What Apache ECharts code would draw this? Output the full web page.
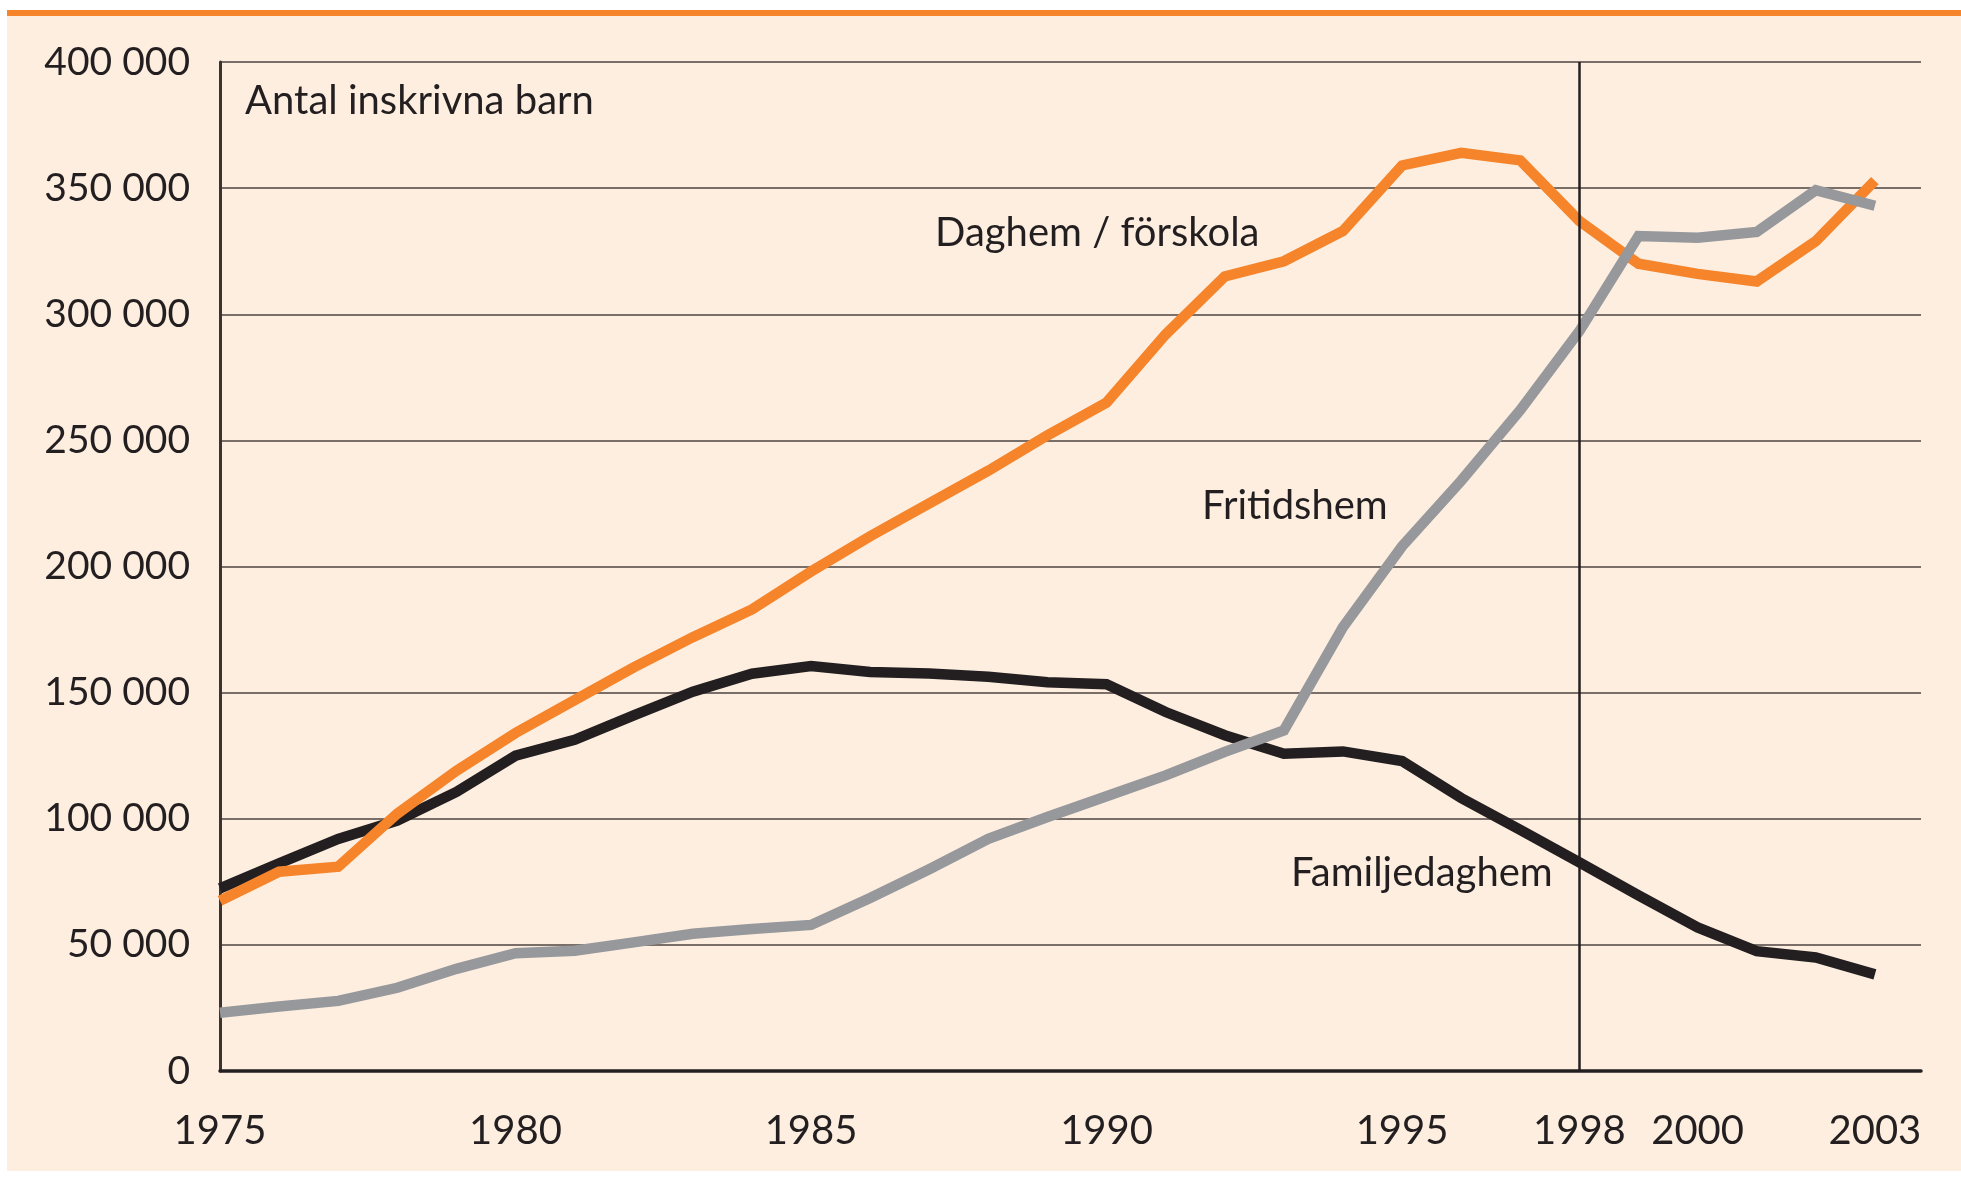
<!DOCTYPE html>
<html>
<head>
<meta charset="utf-8">
<script src="https://cdn.jsdelivr.net/npm/echarts@6/dist/echarts.min.js"></script>
<style>
  html, body { margin: 0; padding: 0; background: #ffffff; }
  #frame {
    position: absolute; left: 7px; top: 10px; right: 0; bottom: 6px;
    background: #fdeee0; border-top: 6px solid #f5842b;
  }
  #main { position: absolute; left: 0; top: 0; width: 1961px; height: 1177px; }
</style>
</head>
<body>
<div id="frame"></div>
<div id="main"></div>
<script>
  // år 1975-2003
  const years = [1975, 1976, 1977, 1978, 1979, 1980, 1981, 1982, 1983, 1984,
    1985, 1986, 1987, 1988, 1989, 1990, 1991, 1992, 1993, 1994,
    1995, 1996, 1997, 1998, 1999, 2000, 2001, 2002, 2003];
  const daghem = [67500, 79000, 81000, 102000, 119000, 134000, 147000, 160000, 172000, 183000,
    198000, 212000, 225000, 238000, 252000, 265000, 292000, 315000, 321000, 333000,
    359000, 364000, 361000, 337000, 320000, 316000, 313000, 329000, 353000];
  const familjedaghem = [72400, 82300, 92000, 99300, 110600, 125000, 131300, 141000, 150400, 157500,
    160500, 158200, 157600, 156300, 154100, 153300, 142300, 133100, 125800, 126700,
    122900, 108200, 95600, 82700, 69600, 56900, 47500, 45000, 38300];
  const fritidshem = [23100, 25600, 27800, 33000, 40500, 46700, 47700, 51000, 54400, 56300,
    57900, 68600, 80000, 92000, 100700, 108900, 117200, 126500, 135000, 176000,
    208000, 234000, 262000, 293300, 331000, 330300, 332600, 349200, 343000];
  const labelYears = [1975, 1980, 1985, 1990, 1995, 1998, 2000, 2003];
  const markYear = 1998;

  const pairs = (vals) => years.map((y, i) => [y, vals[i]]);
  const font = 'Lato, "Open Sans", sans-serif';
  const ink = '#231f20';

  let myChart = echarts.init(document.getElementById('main'));
  myChart.setOption({
    backgroundColor: 'transparent',
    animation: false,
    grid: { left: 220, right: 40, top: 62, bottom: 106 },
    xAxis: {
      type: 'value',
      min: 1975,
      max: 2003.78,
      interval: 1,
      axisLine: { show: true, lineStyle: { color: ink, width: 3.5 } },
      axisTick: { show: false },
      splitLine: { show: false },
      axisLabel: {
        margin: 40,
        fontFamily: font,
        fontSize: 40,
        color: ink,
        showMaxLabel: false,
        formatter: (v) => labelYears.includes(v) ? String(v) : ''
      }
    },
    yAxis: {
      type: 'value',
      min: 0,
      max: 400000,
      interval: 50000,
      axisLine: { show: true, lineStyle: { color: '#3a3330', width: 3 } },
      axisTick: { show: false },
      splitLine: { lineStyle: { color: '#4d4541', width: 1.6 } },
      axisLabel: {
        margin: 30,
        fontFamily: font,
        fontSize: 39,
        color: ink,
        formatter: (v) => v === 0 ? '0' : (v / 1000) + ' 000'
      }
    },
    graphic: [
      { type: 'text', left: 245, top: 81, style: { text: 'Antal inskrivna barn', font: '40px ' + font, fill: ink } },
      { type: 'text', left: 935, top: 213, style: { text: 'Daghem / förskola', font: '40px ' + font, fill: ink } },
      { type: 'text', left: 1202, top: 486, style: { text: 'Fritidshem', font: '40px ' + font, fill: ink } },
      { type: 'text', left: 1291, top: 853, style: { text: 'Familjedaghem', font: '40px ' + font, fill: ink } }
    ],
    series: [
      {
        name: 'Familjedaghem',
        type: 'line',
        data: pairs(familjedaghem),
        showSymbol: false,
        lineStyle: { color: ink, width: 10.5, join: 'miter' },
        markLine: {
          silent: true,
          symbol: 'none',
          label: { show: false },
          lineStyle: { color: ink, width: 2.5, type: 'solid' },
          data: [{ xAxis: markYear }]
        }
      },
      {
        name: 'Daghem / förskola',
        type: 'line',
        data: pairs(daghem),
        showSymbol: false,
        lineStyle: { color: '#f5842b', width: 10.5, join: 'miter' }
      },
      {
        name: 'Fritidshem',
        type: 'line',
        data: pairs(fritidshem),
        showSymbol: false,
        lineStyle: { color: '#96989b', width: 10.5, join: 'miter' }
      }
    ]
  });
</script>
</body>
</html>
